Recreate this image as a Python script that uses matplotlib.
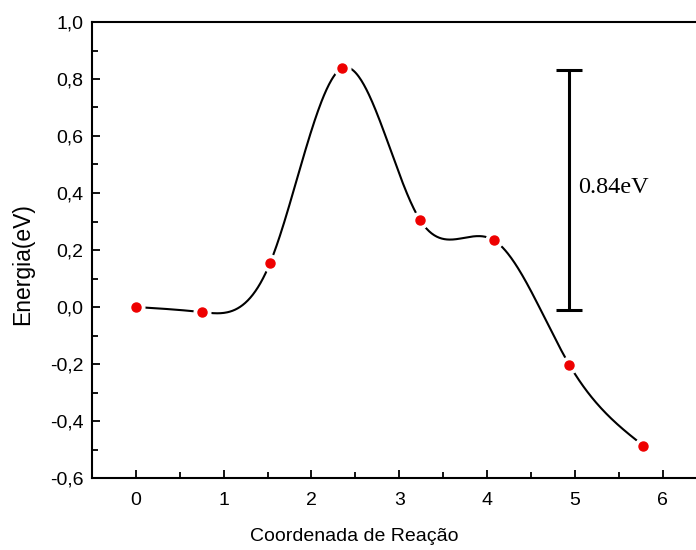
import numpy as np
import matplotlib.pyplot as plt
from matplotlib.ticker import MultipleLocator, FuncFormatter

# Reaction coordinate and energy of each image
coord = [0.0, 0.754, 1.531, 2.354, 3.234, 4.08, 4.937, 5.783]
energy = [0.0, -0.018, 0.156, 0.839, 0.307, 0.234, -0.202, -0.487]
barrier = 0.84
barrier_label = '0.84eV'


def natural_spline(x, y, xs):
    x = np.asarray(x, float)
    y = np.asarray(y, float)
    n = len(x)
    h = np.diff(x)
    A = np.zeros((n, n))
    b = np.zeros(n)
    A[0, 0] = A[-1, -1] = 1
    for i in range(1, n - 1):
        A[i, i - 1] = h[i - 1]
        A[i, i] = 2 * (h[i - 1] + h[i])
        A[i, i + 1] = h[i]
        b[i] = 6 * ((y[i + 1] - y[i]) / h[i] - (y[i] - y[i - 1]) / h[i - 1])
    m = np.linalg.solve(A, b)
    idx = np.clip(np.searchsorted(x, xs) - 1, 0, n - 2)
    t0 = x[idx]
    t1 = x[idx + 1]
    hh = h[idx]
    return (m[idx] * (t1 - xs) ** 3 / (6 * hh) + m[idx + 1] * (xs - t0) ** 3 / (6 * hh)
            + (y[idx] / hh - m[idx] * hh / 6) * (t1 - xs)
            + (y[idx + 1] / hh - m[idx + 1] * hh / 6) * (xs - t0))


plt.rcParams['font.family'] = ['Liberation Sans', 'DejaVu Sans']

fig = plt.figure(figsize=(6.96, 5.5), dpi=100)
ax = fig.add_axes([92 / 696, 72 / 550, 610 / 696, 456 / 550])

xs = np.linspace(coord[0], coord[-1], 600)
ax.plot(xs, natural_spline(coord, energy, xs), color='black', lw=1.5, zorder=2)
ax.plot(coord, energy, 'o', ms=12, color='white', zorder=3)
ax.plot(coord, energy, 'o', ms=6.5, color='#ee0000', zorder=4)

# barrier bar
bx = coord[6]
ax.errorbar([bx], [energy[0] + barrier / 2 - 0.005], yerr=[[barrier / 2 + 0.005], [barrier / 2 - 0.005]],
            color='black', lw=2.2, capsize=9.5, capthick=2.2)
ax.text(bx + 0.1, 0.42, barrier_label, family=['Liberation Serif', 'DejaVu Serif'],
        fontsize=17.5, va='center', ha='left')

ax.set_xlim(-0.5, 6.45)
ax.set_ylim(-0.6, 1.0)
ax.xaxis.set_major_locator(MultipleLocator(1))
ax.xaxis.set_minor_locator(MultipleLocator(0.5))
ax.yaxis.set_major_locator(MultipleLocator(0.2))
ax.yaxis.set_minor_locator(MultipleLocator(0.1))
ax.yaxis.set_major_formatter(FuncFormatter(lambda v, p: f'{v:.1f}'.replace('.', ',').replace('-0,0', '0,0')))
ax.tick_params(which='both', direction='in', width=1.3, labelsize=14, top=False, right=False)
ax.tick_params(which='major', length=6)
ax.tick_params(which='minor', length=4)
ax.tick_params(axis='x', which='major', pad=10)
ax.tick_params(axis='y', which='major', pad=6)
for s in ax.spines.values():
    s.set_linewidth(1.5)

ax.set_ylabel('Energia(eV)', fontsize=16.5)
ax.set_xlabel('Coordenada de Reação', fontsize=14)
ax.yaxis.set_label_coords(-0.095, 0.47)
ax.xaxis.set_label_coords(0.43, -0.11)

fig.savefig('out.png', dpi=100)
